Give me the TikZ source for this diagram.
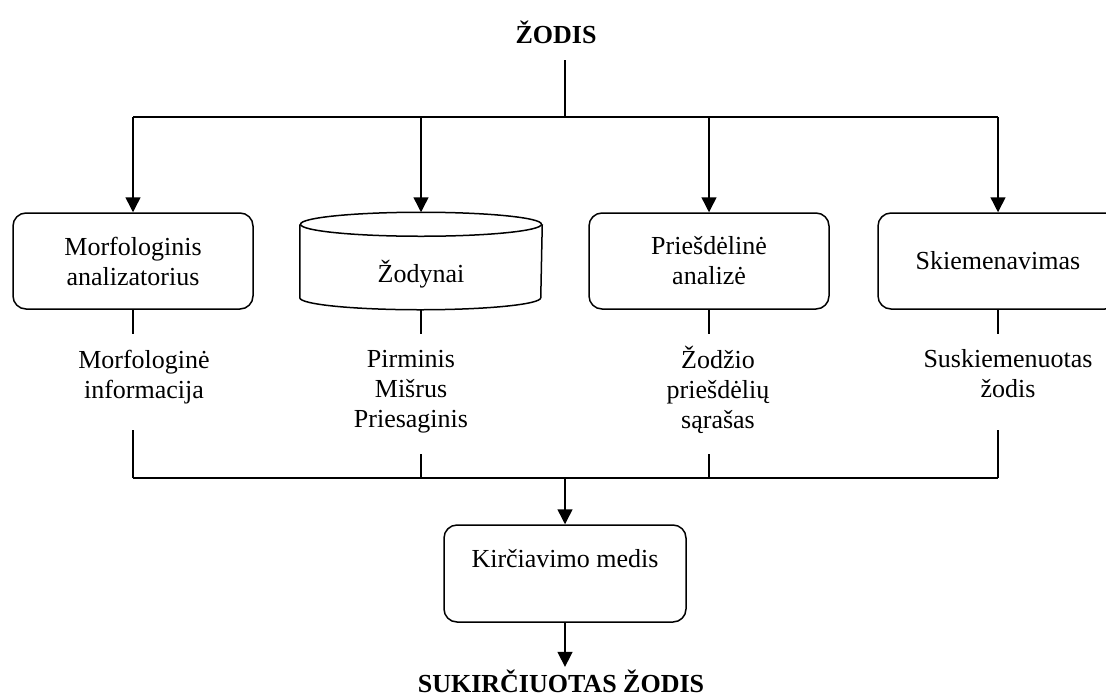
\documentclass[tikz,border=0pt]{standalone}
\usepackage{fontspec}
\setmainfont{Liberation Serif}
\usetikzlibrary{arrows.meta}

\begin{document}
\begin{tikzpicture}[x=0.5pt,y=-0.5pt,>={Triangle[length=7.5pt,width=7.5pt]},line width=0.75pt,
    font=\fontsize{13}{15}\selectfont,
    stage/.style={draw,rounded corners=6.5pt,align=center,minimum width=120pt,minimum height=48pt},
    store/.style={minimum width=120.5pt,minimum height=48pt,text height=24pt,text depth=3pt},
    note/.style={align=center},
    title/.style={font=\fontsize{13}{15}\selectfont\bfseries,inner sep=1pt}]
  \useasboundingbox (0,0) rectangle (1106,696);
  \node[title] (word) at (556,32) {ŽODIS};
  \node[stage] (morph) at (133,261) {Morfologinis\\analizatorius};
  \node[store] (dict) at (421,261) {Žodynai};
  \node[stage] (prefix) at (709,261) {Priešdėlinė\\analizė};
  \node[stage] (syll) at (998,261) {Skiemenavimas};
  \node[stage,minimum width=121pt,minimum height=48.5pt] (tree) at (565,573.5) {Kirčiavimo medis\\ \mbox{}};
  \node[title] (result) at (561,681) {SUKIRČIUOTAS ŽODIS};
  \node[note] (morphinfo) at (144,377) {Morfologinė\\informacija};
  \node[note] (forms) at (411,392) {Pirminis\\Mišrus\\Priesaginis};
  \node[note] (prefixes) at (718,390) {Žodžio\\priešdėlių\\sąrašas};
  \node[note] (syllables) at (1008,374) {Suskiemenuotas\\žodis};
  \draw ([yshift=-6pt]dict.north) ellipse [x radius=60.25pt,y radius=6pt];
  \draw ([yshift=-6pt]dict.north west) -- ([yshift=6pt]dict.south west)
    arc [start angle=180,end angle=360,x radius=60.25pt,y radius=6pt] -- ([yshift=-6pt]dict.north east);
  \coordinate (fork) at (565,117);
  \coordinate (join) at (565,478);
  \draw[shorten <=7pt] (word.south -| fork) -- (fork);
  \draw (morph.north |- fork) -- (syll.north |- fork);
  \foreach \n in {morph,dict,prefix,syll}
    \draw[->] (\n.north |- fork) -- (\n.north);
  \foreach \n in {morph,dict,prefix,syll}
    \draw (\n.south) -- ++(0,24);
  \draw (morph |- join) -- (syll |- join);
  \foreach \n/\l in {morph/48,dict/24,prefix/24,syll/48}
    \draw (\n |- join) -- ++(0,-\l);
  \draw[->] (join) -- (tree);
  \draw[->] (tree.south) -- (tree.south |- result.north);
\end{tikzpicture}
\end{document}
